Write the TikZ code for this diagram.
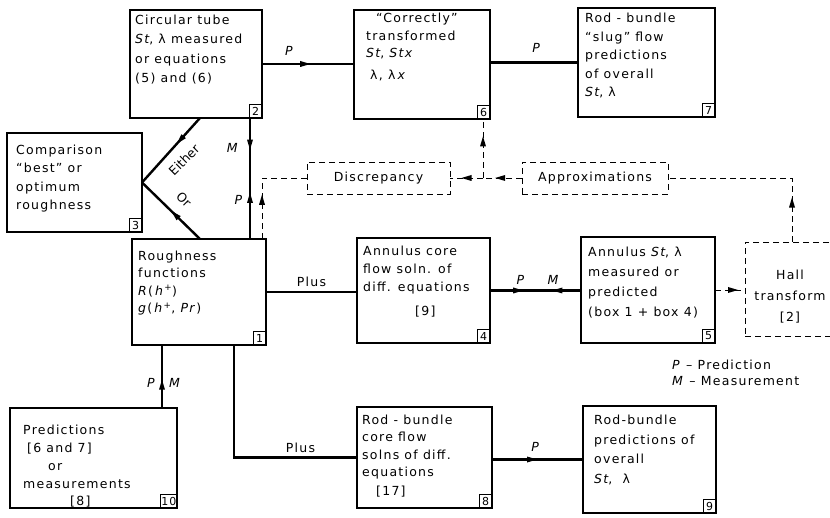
\documentclass[tikz,border=0pt]{standalone}
\usepackage{fontspec}
\setmainfont[LetterSpace=10]{DejaVu Sans}
\newfontfamily\plainlab{DejaVu Sans}
\usetikzlibrary{calc,decorations.markings}
\begin{document}
\begin{tikzpicture}[x=1pt,y=-1pt,
  box/.style={draw, line width=1.1pt, anchor=north west, inner sep=0pt, outer sep=0pt},
  dbox/.style={draw, line width=0.9pt, dash pattern=on 6pt off 4pt, anchor=north west, inner sep=0pt, outer sep=0pt},
  txt/.style={anchor=north west, align=left, inner sep=0pt, font=\fontsize{12.5}{#1}\selectfont},
  txt/.default=18.5,
  tag/.style={draw, line width=0.9pt, anchor=south east, inner sep=0.5pt, outer sep=0pt, minimum width=13pt, minimum height=14pt, font=\fontsize{11}{11}\selectfont},
  lab/.style={inner sep=1pt, font=\fontsize{12.5}{14}\selectfont},
  rlab/.style={inner sep=0pt, font=\plainlab\fontsize{12.5}{14}\selectfont},
  conn/.style={line width=2.4pt},
  dconn/.style={line width=0.9pt, dash pattern=on 6pt off 4pt},
  marr/.style={postaction={decorate, decoration={markings, mark=at position #1 with {\fill[solid] (5pt,0pt) -- (-5pt,3pt) -- (-5pt,-3pt) -- cycle;}}}},
  rarr/.style={postaction={decorate, decoration={markings, mark=at position #1 with {\fill[solid] (-5pt,0pt) -- (5pt,3pt) -- (5pt,-3pt) -- cycle;}}}}]
\useasboundingbox (0,0) rectangle (830,518);
\fill[white] (0,0) rectangle (830,518);

% boxes
\node[box, minimum width=132pt, minimum height=108pt] (b2) at (130,10) {};
\node[box, minimum width=136pt, minimum height=109pt] (b6) at (354,10) {};
\node[box, minimum width=137pt, minimum height=109pt] (b7) at (578,8) {};
\node[box, minimum width=135pt, minimum height=99pt] (b3) at (7,133) {};
\node[dbox, minimum width=143pt, minimum height=32pt] (disc) at (307,162) {};
\node[dbox, minimum width=146pt, minimum height=32pt] (app) at (522,162) {};
\node[box, minimum width=134pt, minimum height=106pt] (b1) at (132,239) {};
\node[box, minimum width=133pt, minimum height=105pt] (b4) at (357,238) {};
\node[box, minimum width=134pt, minimum height=106pt] (b5) at (581,237) {};
\node[dbox, minimum width=95pt, minimum height=94pt] (hall) at (745,242) {};
\node[box, minimum width=167pt, minimum height=100pt] (b10) at (10,408) {};
\node[box, minimum width=135pt, minimum height=101pt] (b8) at (357,407) {};
\node[box, minimum width=133pt, minimum height=107pt] (b9) at (583,406) {};

% tags
\node[tag] (g2) at (b2.south east) {2};
\node[tag] (g6) at (b6.south east) {6};
\node[tag] (g7) at (b7.south east) {7};
\node[tag] (g3) at (b3.south east) {3};
\node[tag] (g1) at (b1.south east) {1};
\node[tag] (g4) at (b4.south east) {4};
\node[tag] (g5) at (b5.south east) {5};
\node[tag] (g10) at (b10.south east) {10};
\node[tag] (g8) at (b8.south east) {8};
\node[tag] (g9) at (b9.south east) {9};

% texts
\node[txt=19.3] (x2) at ($(b2.north west)+(5,5)$) {Circular tube\\ \textit{St}, λ measured\\ or equations\\ (5) and (6)};
\node[txt=17.5] (x6) at ($(b6.north west)+(12,3)$) {\hspace*{10pt}“Correctly”\\ transformed\\ \textit{St}, \textit{Stx}\\[4pt] \hspace*{4pt}λ, λ\,\textit{x}};
\node[txt=18.5] (x7) at ($(b7.north west)+(7,5)$) {Rod - bundle\\ “slug” flow\\ predictions\\ of overall\\ \textit{St}, λ};
\node[txt=18.3] (x3) at ($(b3.north west)+(9,12)$) {Comparison\\ “best” or\\ optimum\\ roughness};
\node[lab] (xd) at (disc) {Discrepancy};
\node[lab] (xa) at (app) {Approximations};
\node[txt=17.3] (x1) at ($(b1.north west)+(6,12)$) {Roughness\\ functions\\ \textit{R}(\,\textit{h}\textsuperscript{+})\\ \textit{g}(\,\textit{h}\textsuperscript{+}, \textit{Pr})};
\node[txt=18] (x4) at ($(b4.north west)+(6,8)$) {Annulus core\\ flow soln. of\\ diff. equations\\[6pt]\hspace*{52pt}[9]};
\node[txt=20] (x5) at ($(b5.north west)+(7,10)$) {Annulus \textit{St}, λ\\ measured or\\ predicted\\ (box 1 + box 4)};
\node[txt=21, align=center, anchor=north] (xh) at ($(hall.north west)+(45,28)$) {Hall\\ transform\\\relax [2]};
\node[txt=17.8] (x10) at ($(b10.north west)+(13,17)$) {Predictions\\ \hspace*{4pt}[6 and 7]\\ \hspace*{25pt}or\\ measurements\\ \hspace*{47pt}[8]};
\node[txt=17.3] (x8) at ($(b8.north west)+(5,8)$) {Rod - bundle\\ core flow\\ solns of diff.\\ equations\\[2pt]\hspace*{14pt}[17]};
\node[txt=19.5] (x9) at ($(b9.north west)+(11,9)$) {Rod-bundle\\ predictions of\\ overall\\ \textit{St},\ \ λ};
\node[txt=16] (leg) at (672,360) {\textit{P} – Prediction\\ \textit{M} – Measurement};

% solid connectors
\draw[conn, marr=0.47] (b2.east) -- node[lab, pos=0.3, above=6pt] (lp1) {\textit{P}} (b2.east -| b6.west);
\draw[conn] (b6.east |- b7.west) -- node[lab, pos=0.53, above=8pt] (lp2) {\textit{P}} (b7.west);
\coordinate (E2) at ($(b2.south west)+(70,0)$);
\coordinate (O1) at ($(b1.north west)+(68,0)$);
\draw[conn, marr=0.34] (E2) -- (b3.east);
\draw[conn, marr=0.43] (O1) -- (b3.east);
\node[rlab, rotate=45] (leith) at (184,160) {Either};
\node[rlab, rotate=-45] (lor) at (184,200) {Or};
\coordinate (M2) at ($(b2.south west)+(120,0)$);
\draw[conn, marr=0.22, rarr=0.66] (M2) -- (M2 |- b1.north);
\node[lab] (lm3) at (233,148) {\textit{M}};
\node[lab] (lp3) at (239,200) {\textit{P}};
\draw[conn] (b1.east) -- node[lab, above=3pt] (lplus1) {Plus} (b1.east -| b4.west);
\draw[conn, marr=0.31, rarr=0.74] (b4.east) -- node[lab, pos=0.34, above=4pt] (lp4) {\textit{P}} node[lab, pos=0.70, above=4pt] (lm4) {\textit{M}} (b4.east -| b5.west);
\coordinate (B1) at ($(b1.south west)+(102,0)$);
\draw[conn] (B1) |- node[lab, pos=0.77, above=3pt] (lplus2) {Plus} (b8.west);
\coordinate (T10) at ($(b10.north west)+(152,0)$);
\draw[conn, marr=0.37] (T10) -- node[lab, pos=0.4, left=4pt] (lp5) {\textit{P}} node[lab, pos=0.4, right=5pt] (lm5) {\textit{M}} (T10 |- b1.south);
\draw[conn, marr=0.44] (b8.east |- b9.west) -- node[lab, pos=0.48, above=6pt] (lp6) {\textit{P}} (b9.west);

% dashed connectors
\coordinate (D1) at ($(b1.north west)+(130,0)$);
\draw[dconn, marr=0.37] (D1) |- (disc.west);
\coordinate (J6) at ($(b6.south east)+(-7,0)$);
\coordinate (J) at (J6 |- app.west);
\draw[dconn, marr=0.56] (app.west) -- (J);
\draw[dconn, marr=0.5] (J) -- (disc.east);
\draw[dconn, marr=0.62] (J) -- (J6);
\coordinate (H) at ($(hall.north west)+(47,0)$);
\draw[dconn, marr=0.21] (H) |- (app.east);
\draw[dconn, marr=0.6] (b5.east) -- (b5.east -| hall.west);
\end{tikzpicture}
\end{document}
